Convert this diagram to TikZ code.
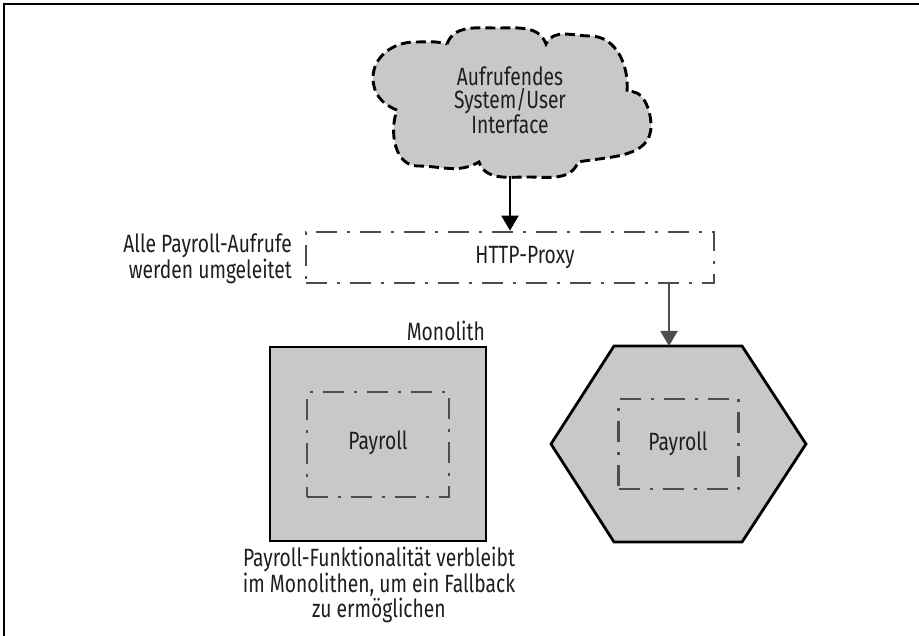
\documentclass[tikz,border=0pt]{standalone}
\usepackage{fontspec}
\setmainfont{Fira Sans}[FakeStretch=0.77]
\usetikzlibrary{arrows.meta}

\definecolor{shade}{HTML}{C8C8C8}
\definecolor{ink}{HTML}{1E1E1E}
\definecolor{dashgray}{HTML}{4D4D4D}

\tikzset{
  txt/.style={font=\fontsize{25}{24}\selectfont, text=ink, inner sep=0pt, align=center},
  cloudline/.style={draw=black, line width=2.9pt, fill=shade, dash pattern=on 10pt off 5pt},
  dashdot/.style={draw=dashgray, line width=2.8pt, dash pattern=on 21pt off 10pt on 3pt off 10pt},
  solidbox/.style={draw=black, line width=2.8pt, fill=shade},
  flow/.style={line width=2.2pt, -{Triangle[length=15pt,width=17pt]}},
}

\begin{document}
\begin{tikzpicture}[x=1pt, y=-1pt]
  \useasboundingbox (0,0) rectangle (919,636);

  % frame: top and left rule
  \draw[line width=2.2pt] (919,4) -- (4,4) -- (4,636);

  % calling system drawn as a cloud
  \path[cloudline]
    (447,44) to[out=70,in=180] (497,28) to[out=0,in=110] (546,44)
    to[out=65,in=180] (590,36) to[out=0,in=85] (627,92)
    to[out=15,in=90] (651,126) to[out=-90,in=10] (578,162)
    to[out=-110,in=0] (528,177) to[out=180,in=-70] (479,162)
    to[out=-150,in=0] (418,166) to[out=180,in=-110] (397,110)
    to[out=160,in=-90] (373,78) to[out=90,in=180] (415,42)
    to[out=0,in=165] cycle;
  \node[txt, font=\fontsize{25}{23}\selectfont] (caller) at (510,100)
    {Aufrufendes\\System/User\\Interface};
  \coordinate (cloudbot) at (510,176);

  % proxy
  \node[dashdot, minimum width=408pt, minimum height=51pt, inner sep=0pt] (proxy) at (510,257.5) {};
  \node[txt] (proxytxt) at (525,258) {HTTP-Proxy};
  \node[txt, align=right, anchor=east] (redir) at (292,259)
    {Alle Payroll-Aufrufe\\werden umgeleitet};

  % monolith
  \node[solidbox, minimum width=216pt, minimum height=194pt, inner sep=0pt] (mono) at (378,444) {};
  \node[dashdot, minimum width=142pt, minimum height=105pt, inner sep=0pt] (monopay) at (378,444.5) {};
  \node[txt] at (378,443) {Payroll};
  \node[txt, anchor=east] (monolbl) at (485,331) {Monolith};
  \node[txt, font=\fontsize{25}{23}\selectfont] (fallback) at (379,585)
    {Payroll-Funktionalität verbleibt\\im Monolithen, um ein Fallback\\zu ermöglichen};

  % new service as a hexagon
  \path[solidbox, line join=miter]
    (614,346) -- (742,346) -- (806,444) -- (742,542) -- (614,542) -- (551,444) -- cycle;
  \node[minimum width=255pt, minimum height=196pt, inner sep=0pt] (hex) at (678.5,444) {};
  \node[dashdot, minimum width=120pt, minimum height=90pt, inner sep=0pt] (hexpay) at (678.5,444) {};
  \node[txt] at (678,444) {Payroll};
  \coordinate (hextop) at (669,346);

  % connectors
  \draw[flow, draw=black, fill=black] (cloudbot) -- (proxy.north -| cloudbot);
  \draw[flow, draw=dashgray, fill=dashgray] (proxy.south -| hextop) -- (hextop);
\end{tikzpicture}
\end{document}
